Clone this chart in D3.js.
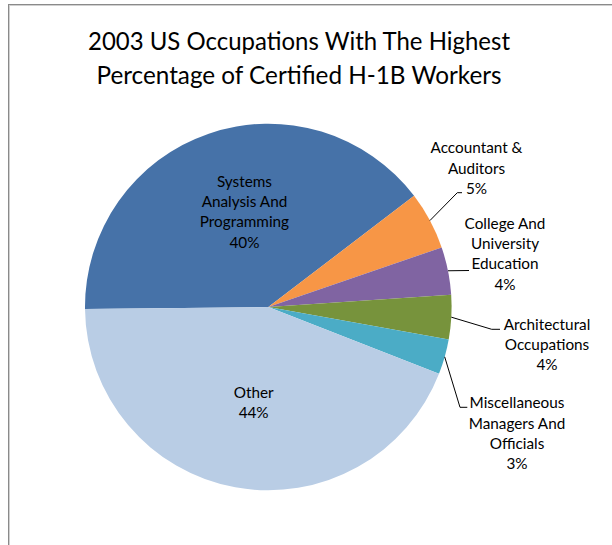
<!DOCTYPE html>
<html>
<head>
<meta charset="utf-8">
<script src="https://cdn.jsdelivr.net/npm/d3@7"></script>
<style>
  html, body { margin: 0; padding: 0; background: #fff; }
  svg { display: block; }
</style>
</head>
<body>
<svg id="chart" width="612" height="545"></svg>
<script>
// ---- data ----
const categories = [
  "Systems Analysis And Programming",
  "Accountant & Auditors",
  "College And University Education",
  "Architectural Occupations",
  "Miscellaneous Managers And Officials",
  "Other"
];
const values = [39.8, 5.1, 4.2, 3.9, 3.1, 43.9];
const percentLabels = ["40%", "5%", "4%", "4%", "3%", "44%"];
const labelLines = [
  ["Systems", "Analysis And", "Programming"],
  ["Accountant &", "Auditors"],
  ["College And", "University", "Education"],
  ["Architectural", "Occupations"],
  ["Miscellaneous", "Managers And", "Officials"],
  ["Other"]
];
const colors = ["#4672A8", "#F79646", "#8064A2", "#77933C", "#4BACC6", "#B9CDE5"];
const titleLines = ["2003 US Occupations With The Highest", "Percentage of Certified H-1B Workers"];

// ---- layout ----
const W = 612, H = 545;
const cx = 268.3, cy = 307, R = 183.3;
const startDeg = -90.6;
const fontFamily = "Lato, 'Open Sans', 'Liberation Sans', sans-serif";
const lineH = 20.2;

// label placement (layout only)
const labelLayout = [
  { inside: true, dx: 8, dy: -2 },
  { x: 476.5, y: 153.3, elbow: [457.3, 192.7], end: [462, 192.7] },
  { x: 505, y: 229, elbow: null, end: [469, 270.5] },
  { x: 547, y: 330, elbow: [491.7, 329.3], end: [500, 329.3] },
  { x: 517, y: 408.3, elbow: [460, 407.3], end: [467.3, 407.3] },
  { inside: true, dx: 3, dy: 0 }
];

const svg = d3.select("#chart");

// border
svg.append("line").attr("x1", 8).attr("x2", W).attr("y1", 4.5).attr("y2", 4.5)
  .attr("stroke", "#8a8a8a").attr("stroke-width", 1);
svg.append("line").attr("x1", 8).attr("x2", W).attr("y1", 5.5).attr("y2", 5.5)
  .attr("stroke", "#d0d0d0").attr("stroke-width", 1);
svg.append("line").attr("x1", 8.5).attr("x2", 8.5).attr("y1", 4).attr("y2", H)
  .attr("stroke", "#8a8a8a").attr("stroke-width", 1);
svg.append("line").attr("x1", 9.5).attr("x2", 9.5).attr("y1", 5).attr("y2", H)
  .attr("stroke", "#d0d0d0").attr("stroke-width", 1);

// title
const titleTargets = [422, 405];
const title = svg.append("g");
titleLines.forEach((t, i) => {
  const tx = title.append("text")
    .attr("x", 299).attr("y", 50 + i * 34)
    .attr("text-anchor", "middle")
    .attr("font-family", fontFamily)
    .attr("font-size", 25.5)
    .attr("fill", "#000")
    .text(t);
  const w = tx.node().getComputedTextLength();
  if (Math.abs(w - titleTargets[i]) > 3) {
    tx.attr("textLength", titleTargets[i]).attr("lengthAdjust", "spacingAndGlyphs");
  }
});

// pie
const data = categories.map((c, i) => ({ name: c, value: values[i], i }));
const toRad = d => d * Math.PI / 180;
const pie = d3.pie().sort(null).value(d => d.value)
  .startAngle(toRad(startDeg)).endAngle(toRad(startDeg) + 2 * Math.PI);
const arcs = pie(data);
const arc = d3.arc().innerRadius(0).outerRadius(R);
const edgeArc = d3.arc().innerRadius(R).outerRadius(R);
const labelArc = d3.arc().innerRadius(98).outerRadius(98);

const g = svg.append("g").attr("transform", `translate(${cx},${cy})`);
g.selectAll("path.slice").data(arcs).enter().append("path")
  .attr("class", "slice")
  .attr("d", arc)
  .attr("fill", d => colors[d.data.i]);

// leader lines
arcs.forEach(a => {
  const L = labelLayout[a.data.i];
  if (L.inside) return;
  const [ex, ey] = edgeArc.centroid(a);
  const pts = [[cx + ex, cy + ey]];
  if (L.elbow) pts.push(L.elbow);
  pts.push(L.end);
  svg.append("path")
    .attr("d", d3.line()(pts))
    .attr("fill", "none")
    .attr("stroke", "#000")
    .attr("stroke-width", 1);
});

// labels
arcs.forEach(a => {
  const i = a.data.i;
  const L = labelLayout[i];
  const lines = labelLines[i].concat([percentLabels[i]]);
  let x, y0;
  if (L.inside) {
    const [lx, ly] = labelArc.centroid(a);
    x = cx + lx + L.dx;
    const midY = cy + ly + L.dy;
    y0 = midY - (lines.length - 1) * lineH / 2 + 5;
  } else {
    x = L.x; y0 = L.y;
  }
  const t = svg.append("text")
    .attr("text-anchor", "middle")
    .attr("font-family", fontFamily)
    .attr("font-size", 15.3)
    .attr("fill", "#000");
  lines.forEach((ln, k) => {
    t.append("tspan").attr("x", x).attr("y", y0 + k * lineH).text(ln);
  });
});
</script>
</body>
</html>
